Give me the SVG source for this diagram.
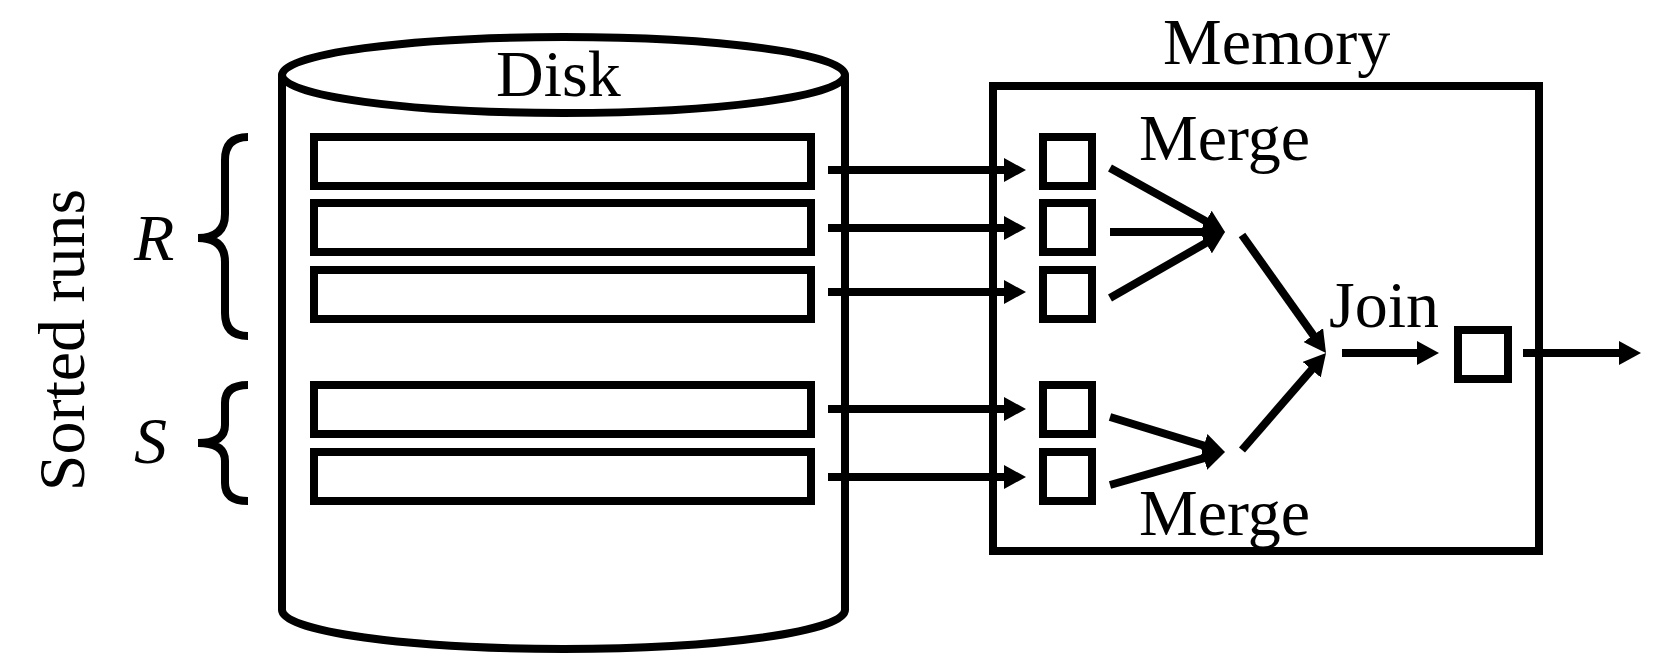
<svg xmlns="http://www.w3.org/2000/svg" width="1667" height="671" viewBox="0 0 1667 671">
<defs>
<style>
.ln{stroke:#000;stroke-width:8;fill:none}
.bx{stroke:#000;stroke-width:8;fill:#fff}
.t{font-family:"Liberation Serif","Times New Roman",serif;font-size:66px;fill:#000}
.it{font-style:italic}
</style>
<marker id="ah" markerUnits="userSpaceOnUse" markerWidth="22" markerHeight="24" refX="12" refY="12" orient="auto" viewBox="0 0 22 24">
<path d="M0,0 L22,12 L0,24 z" fill="#000"/>
</marker>
</defs>
<rect width="1667" height="671" fill="#fff"/>

<g id="disk">
<path class="bx" d="M282,75 L282,610 A281.5,39 0 0 0 845,610 L845,75"/>
<ellipse class="bx" cx="563.5" cy="75" rx="281.5" ry="38"/>
<text class="t" x="496" y="96">Disk</text>
</g>

<g id="runs">
<rect class="bx" x="314" y="137" width="497" height="49"/>
<rect class="bx" x="314" y="203" width="497" height="49"/>
<rect class="bx" x="314" y="270" width="497" height="49"/>
<rect class="bx" x="314" y="385" width="497" height="49"/>
<rect class="bx" x="314" y="452" width="497" height="49"/>
</g>

<g id="labels">
<text class="t" transform="translate(84,340) rotate(-90)" text-anchor="middle">Sorted runs</text>
<text class="t it" x="134" y="260">R</text>
<text class="t it" x="134" y="463">S</text>
<path class="ln" stroke-width="7" d="M248,137 Q225,137 225,160 L225,214 Q225,238 198,238 Q225,238 225,262 L225,313 Q225,336 248,336"/>
<path class="ln" stroke-width="7" d="M248,385 Q225,385 225,403 L225,425 Q225,443 198,443 Q225,443 225,461 L225,483 Q225,501 248,501"/>
</g>

<g id="memory">
<rect class="bx" x="993" y="86" width="546" height="465"/>
<text class="t" x="1163" y="64">Memory</text>
<text class="t" x="1139" y="160">Merge</text>
<text class="t" x="1139" y="535">Merge</text>
<text class="t" x="1329" y="327">Join</text>
</g>

<g id="buffers">
<rect class="bx" x="1043" y="137" width="49" height="49"/>
<rect class="bx" x="1043" y="203" width="49" height="49"/>
<rect class="bx" x="1043" y="270" width="49" height="49"/>
<rect class="bx" x="1043" y="385" width="49" height="49"/>
<rect class="bx" x="1043" y="452" width="49" height="49"/>
<rect class="bx" x="1458" y="330" width="50" height="49"/>
</g>

<g id="connectors" class="ln" marker-end="url(#ah)">
<line x1="828" y1="170" x2="1016" y2="170"/>
<line x1="828" y1="228" x2="1016" y2="228"/>
<line x1="828" y1="292" x2="1016" y2="292"/>
<line x1="828" y1="409" x2="1016" y2="409"/>
<line x1="828" y1="477" x2="1016" y2="477"/>
<line x1="1110" y1="168" x2="1216.3" y2="227.1"/>
<line x1="1110" y1="232" x2="1215" y2="232"/>
<line x1="1110" y1="298" x2="1216.3" y2="237"/>
<line x1="1110" y1="417" x2="1215.4" y2="449.1"/>
<line x1="1110" y1="485" x2="1215.4" y2="454.8"/>
<line x1="1242" y1="235" x2="1320.2" y2="344.9"/>
<line x1="1242" y1="450" x2="1319.5" y2="360.6"/>
<line x1="1342" y1="353" x2="1429" y2="353"/>
<line x1="1523" y1="353" x2="1631" y2="353"/>
</g>
</svg>
